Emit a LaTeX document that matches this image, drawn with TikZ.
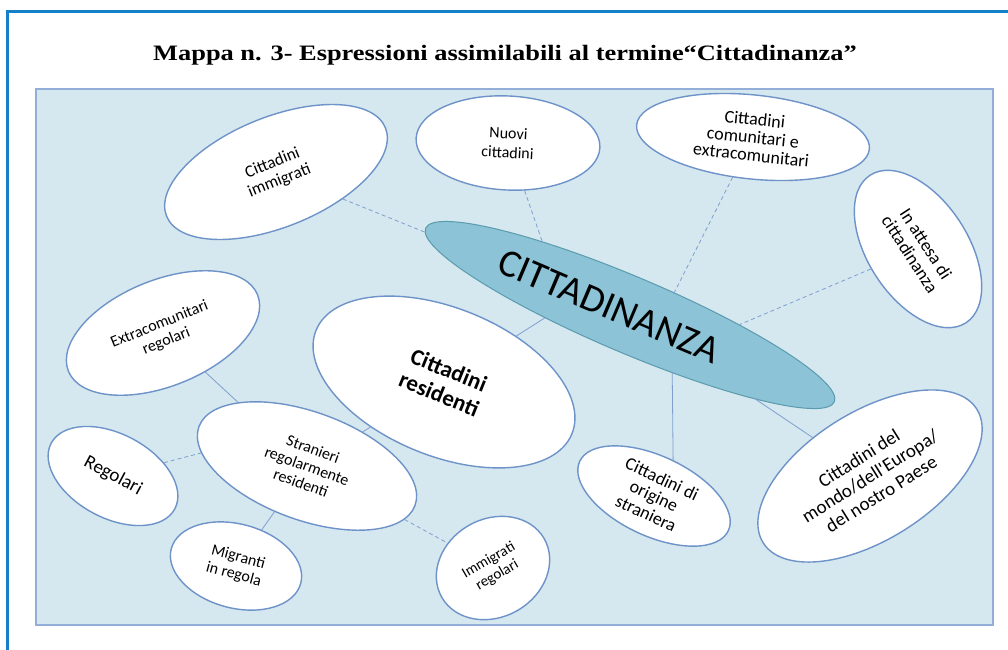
\documentclass[tikz,border=0pt]{standalone}
\usepackage{fontspec}
\setmainfont{Liberation Serif}
\newfontfamily\calibri{Carlito}
\usetikzlibrary{shapes.geometric}

\definecolor{frameblue}{HTML}{1580C8}
\definecolor{panelfill}{HTML}{D5E7EF}
\definecolor{paneldraw}{HTML}{93AFD9}
\definecolor{bubbledraw}{HTML}{6E93C8}
\definecolor{corefill}{HTML}{8CC3D6}
\definecolor{coredraw}{HTML}{5B9BAE}
\definecolor{linkblue}{HTML}{7E9FD0}

\begin{document}
\begin{tikzpicture}[x=1pt, y=-1pt,
    bubble/.style={ellipse, draw=bubbledraw, fill=white, line width=1.4pt,
        inner sep=-14pt, align=center, font=\calibri\fontsize{17}{19}\selectfont},
    core/.style={ellipse, draw=coredraw, fill=corefill, line width=1pt,
        inner sep=-10pt, font=\calibri\fontsize{39}{41}\selectfont},
    link/.style={draw=linkblue, line width=0.8pt},
    dlink/.style={link, dashed, dash pattern=on 4pt off 3pt}]
	\useasboundingbox (0,0) rectangle (1008,649);
	\draw[frameblue, line width=3pt] (7,11) rectangle (1030,680);
	\node (title) at (505,55) {\scalebox{1.2}[1]{\bfseries\fontsize{22}{24}\selectfont Mappa n. 3- Espressioni assimilabili al termine“Cittadinanza”}};
	\draw[fill=panelfill, draw=paneldraw, line width=2.5pt] (36,89) rectangle (993,625);
	
	\node (cit) [core, minimum width=444, minimum height=76, rotate=-23] at (630,315) {CITTADINANZA\hspace*{45pt}};
	
	\node (imm) [bubble, minimum width=236, minimum height=110, rotate=22] at (276,172) {Cittadini\\immigrati};
	\node (nuovi) [bubble, minimum width=184, minimum height=94, rotate=-3, font=\calibri\fontsize{16}{19}\selectfont] at (508,143) {Nuovi\\cittadini};
	\node (comun) [bubble, minimum width=234, minimum height=84, rotate=-6, font=\calibri\fontsize{18}{18}\selectfont] at (753,137) {Cittadini\\comunitari e\\extracomunitari};
	\node (attesa) [bubble, minimum width=176, minimum height=100, rotate=-57, font=\calibri\fontsize{18}{19}\selectfont] at (918,249) {In attesa di\\cittadinanza};
	\node (extra) [bubble, minimum width=204, minimum height=106, rotate=22, font=\calibri\fontsize{16}{18}\selectfont] at (163,333) {Extracomunitari\\regolari};
	\node (resid) [bubble, minimum width=276, minimum height=148, rotate=-22, font=\calibri\bfseries\fontsize{23}{26}\selectfont] at (444,382) {Cittadini\\residenti};
	\node (stran) [bubble, minimum width=230, minimum height=108, rotate=-20, font=\calibri\fontsize{16}{18}\selectfont] at (307,466) {Stranieri\\regolarmente\\residenti};
	\node (regol) [bubble, minimum width=140, minimum height=84, rotate=-28, font=\calibri\fontsize{19}{21}\selectfont] at (113,476) {Regolari};
	\node (migr) [bubble, minimum width=134, minimum height=84, rotate=-15, font=\calibri\fontsize{16}{18}\selectfont] at (236,566) {Migranti\\in regola};
	\node (immreg) [bubble, minimum width=118, minimum height=98, rotate=30, font=\calibri\fontsize{15}{17}\selectfont] at (493,568) {Immigrati\\regolari};
	\node (origine) [bubble, minimum width=164, minimum height=80, rotate=-25, font=\calibri\fontsize{18}{19}\selectfont] at (654,496) {Cittadini di\\origine\\straniera};
	\node (mondo) [bubble, minimum width=252, minimum height=128, rotate=32, font=\calibri\fontsize{19}{21}\selectfont] at (870,476) {Cittadini del\\mondo/dell'Europa/\\del nostro Paese};
	
	\draw[dlink] (imm) -- (cit);
	\draw[dlink] (nuovi) -- (cit.163);
	\draw[dlink] (comun) -- (cit.50);
	\draw[dlink] (attesa) -- (cit.18);
	\draw[link] (resid) -- (cit.205);
	\draw[link] (cit) -- (mondo);
	\draw[link] (cit.329) -- (origine.87);
	\draw[link] (extra) -- (stran);
	\draw[dlink] (regol) -- (stran.193);
	\draw[link] (stran) -- (resid);
	\draw[link] (stran) -- (migr);
	\draw[dlink] (stran) -- (immreg);
\end{tikzpicture}
\end{document}
